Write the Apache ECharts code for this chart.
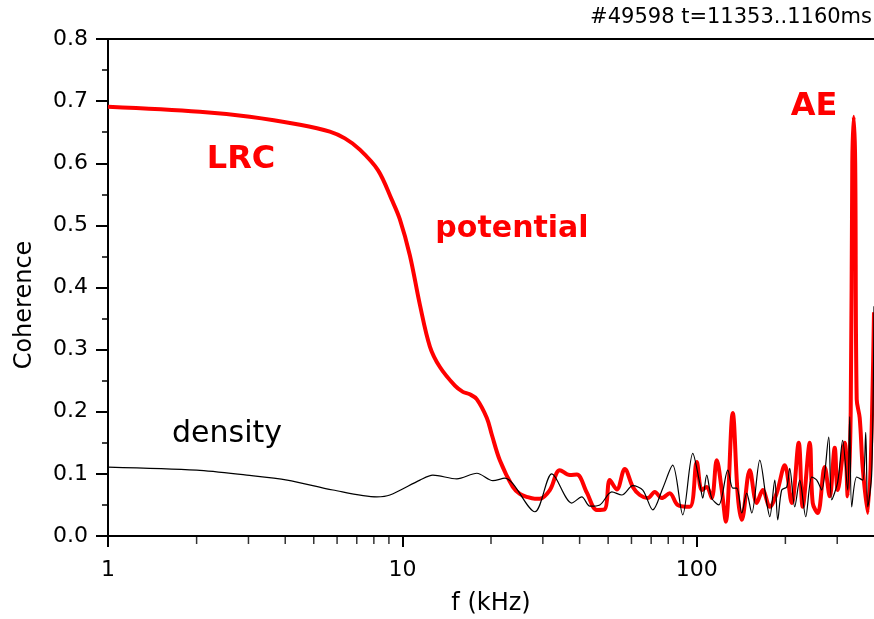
<!DOCTYPE html>
<html><head><meta charset="utf-8">
<script src="https://cdn.jsdelivr.net/npm/echarts@6/dist/echarts.min.js"></script>
<style>html,body{margin:0;padding:0;background:#fff}#c{width:874px;height:619px}</style>
</head><body><div id="c"></div>
<script>
// potential coherence (red)
const potentialFreq = [1,2.05,3.03,4.49,5.67,6.38,7.17,8.26,9.21,9.8,10.6,11.47,12.4,13.41,15.08,16.05,16.95,17.91,19.36,20.13,21.43,23.73,25.06,26.47,28.18,29.3,31.69,34.26,37.05,39.13,42.31,45.75,48.71,50.65,53.5,56.96,60.65,64.05,68.18,72.01,76.06,80.93,86.16,94.67,100,104,108.1,112.4,116.9,121.6,125.5,132.5,137.9,142.2,151.4,159.9,167.6,177,186.9,199,210.2,222,229,242,247.7,257.6,272,282.9,294.2,301.2,318.1,325.6,333.4,337.5,341.3,345.3,349.4,357.7,366.2,380.9,400];
const potentialCoh = [0.691,0.683,0.675,0.662,0.651,0.640,0.622,0.589,0.541,0.510,0.452,0.372,0.305,0.272,0.242,0.232,0.228,0.220,0.190,0.163,0.122,0.079,0.068,0.063,0.060,0.060,0.074,0.106,0.098,0.099,0.070,0.042,0.043,0.090,0.075,0.108,0.079,0.066,0.061,0.071,0.061,0.069,0.050,0.047,0.119,0.074,0.079,0.061,0.122,0.074,0.023,0.198,0.064,0.026,0.106,0.053,0.074,0.047,0.069,0.114,0.053,0.150,0.047,0.150,0.053,0.037,0.111,0.064,0.142,0.074,0.150,0.064,0.200,0.600,0.675,0.600,0.220,0.190,0.110,0.037,0.360];
// density coherence (black)
const densityFreq = [1,2.0,2.96,4.06,5.81,8.19,9.07,11.47,12.69,15.31,17.91,20.3,22.28,28.18,32.19,37.64,40.69,43.32,46.84,51.45,55.64,60.65,65.56,70.89,76.66,82.85,89.61,96.92,102.4,104.8,108.1,112.4,118.8,127.5,132.5,136.8,142.2,147.8,153.8,163.7,172.9,177,184.1,188.4,194.3,202.1,206.9,215.2,223.7,234.5,245.8,255.6,265.7,280.7,287.3,301.2,313.1,325.6,330.8,336,349.4,366.2,374.9,380.9,392.9,400];
const densityCoh = [0.111,0.106,0.098,0.090,0.074,0.063,0.066,0.090,0.098,0.092,0.101,0.089,0.093,0.039,0.100,0.053,0.063,0.048,0.050,0.071,0.066,0.081,0.074,0.042,0.077,0.114,0.034,0.133,0.085,0.061,0.098,0.061,0.050,0.106,0.077,0.077,0.037,0.069,0.037,0.122,0.053,0.031,0.090,0.026,0.074,0.079,0.109,0.047,0.090,0.031,0.095,0.090,0.074,0.159,0.058,0.087,0.154,0.074,0.192,0.047,0.095,0.090,0.167,0.047,0.101,0.370];
// axis tick positions (log axis)
const xMajorTicks = [1,10,100];
const xMinorTicks = [2,3,4,5,6,7,8,9,20,30,40,50,60,70,80,90,200,300];

const FONT = 'DejaVu Sans';
const chart = echarts.init(document.getElementById('c'), null, {renderer:'canvas'});
const zip = (a,b)=>a.map((v,i)=>[v,b[i]]);
chart.setOption({
  animation:false,
  backgroundColor:'#fff',
  grid:{left:108,right:0,top:39,bottom:83,containLabel:false,outerBoundsMode:'none'},
  xAxis:[{
    type:'log', logBase:10, min:1, max:400,
    name:'f (kHz)', nameLocation:'middle', nameGap:56,
    nameTextStyle:{fontFamily:FONT,fontSize:24,color:'#000'},
    axisLine:{show:true,onZero:false,lineStyle:{color:'#000',width:2}},
    axisTick:{show:true,inside:false,length:11,customValues:xMajorTicks,lineStyle:{color:'#000',width:2}},
    minorTick:{show:false},
    splitLine:{show:false},
    axisLabel:{fontFamily:FONT,fontSize:22,color:'#000',margin:23,customValues:xMajorTicks,
      formatter:v=>String(Math.round(v))}
  },{
    type:'log', logBase:10, min:1, max:400, position:'top',
    axisLine:{show:true,onZero:false,lineStyle:{color:'#000',width:2}},
    axisTick:{show:false}, axisLabel:{show:false}, splitLine:{show:false}
  }],
  yAxis:{
    type:'value', min:0, max:0.8, interval:0.1,
    axisLine:{show:true,lineStyle:{color:'#000',width:2}},
    axisTick:{show:true,inside:false,length:12,lineStyle:{color:'#000',width:2}},
    minorTick:{show:true,splitNumber:2,length:6,lineStyle:{color:'#000',width:1.5}},
    splitLine:{show:false},
    axisLabel:{fontFamily:FONT,fontSize:22,color:'#000',margin:20,formatter:v=>v.toFixed(1)}
  },
  series:[
    {type:'line',name:'potential',data:zip(potentialFreq,potentialCoh),showSymbol:false,symbol:'none',
      smooth:0.35,lineStyle:{color:'#ff0000',width:4},z:2},
    {type:'line',name:'density',data:zip(densityFreq,densityCoh),showSymbol:false,symbol:'none',
      smooth:0.3,lineStyle:{color:'#000',width:1.2},z:3},
    {type:'scatter',name:'minorTicks',data:xMinorTicks.map(v=>[v,0]),clip:false,silent:true,
      symbol:'rect',symbolSize:[1.5,7],symbolOffset:[0,4.5],itemStyle:{color:'#000'},z:4}
  ],
  graphic:[
    {type:'text',right:2,top:7,style:{text:'#49598 t=11353..1160ms',fontFamily:FONT,fontSize:21,fill:'#000'}},
    {type:'text',x:25,y:305,rotation:Math.PI/2,style:{text:'Coherence',fontFamily:FONT,fontSize:24,fill:'#000',align:'center',verticalAlign:'middle'}},
    {type:'text',x:241,y:160,style:{text:'LRC',fontFamily:FONT,fontSize:32,fontWeight:'bold',fill:'#ff0000',align:'center',verticalAlign:'middle'}},
    {type:'text',x:512,y:229,style:{text:'potential',fontFamily:FONT,fontSize:30,fontWeight:'bold',fill:'#ff0000',align:'center',verticalAlign:'middle'}},
    {type:'text',x:814,y:107,style:{text:'AE',fontFamily:FONT,fontSize:32,fontWeight:'bold',fill:'#ff0000',align:'center',verticalAlign:'middle'}},
    {type:'text',x:227,y:434,style:{text:'density',fontFamily:FONT,fontSize:30,fill:'#000',align:'center',verticalAlign:'middle'}}
  ]
});
</script></body></html>
